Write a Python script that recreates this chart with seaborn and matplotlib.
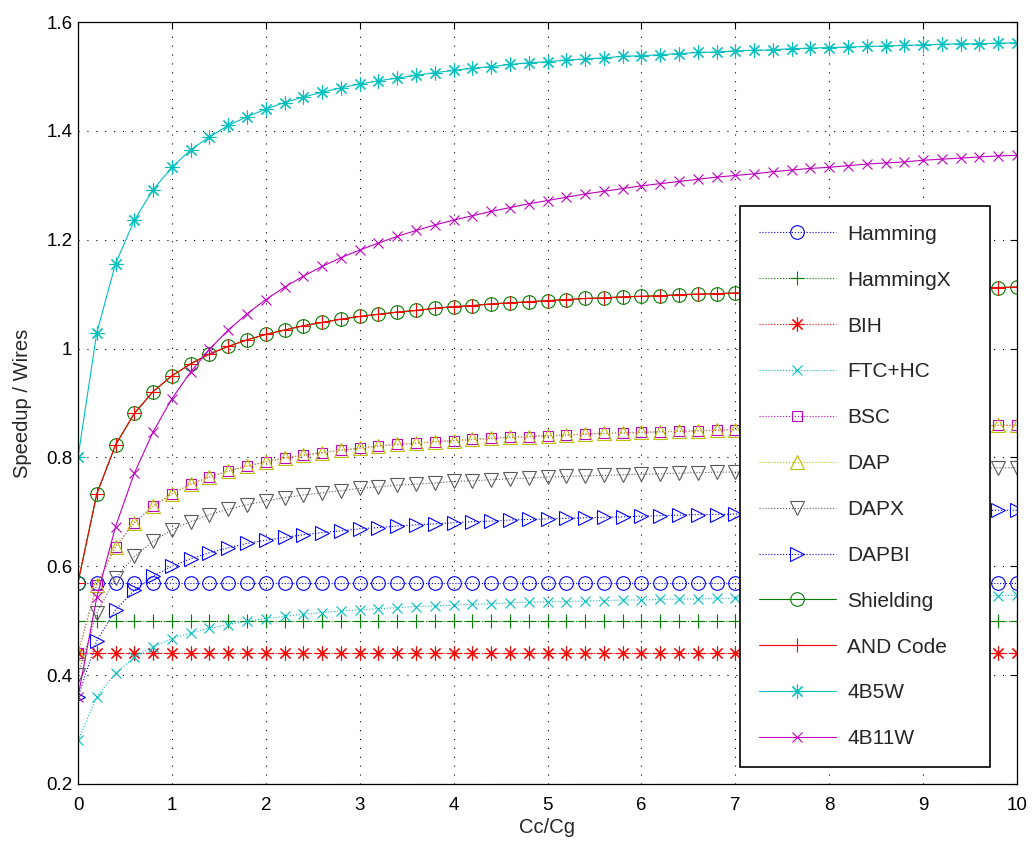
import matplotlib
matplotlib.use("Agg")
import matplotlib.pyplot as plt
import seaborn as sns
import numpy as np

# ---------------- data ----------------
cc_cg = [0.0, 0.2, 0.4, 0.6, 0.8, 1.0, 1.2, 1.4, 1.6, 1.8, 2.0, 2.2, 2.4, 2.6, 2.8,
         3.0, 3.2, 3.4, 3.6, 3.8, 4.0, 4.2, 4.4, 4.6, 4.8, 5.0, 5.2, 5.4, 5.6, 5.8,
         6.0, 6.2, 6.4, 6.6, 6.8, 7.0, 7.2, 7.4, 7.6, 7.8, 8.0, 8.2, 8.4, 8.6, 8.8,
         9.0, 9.2, 9.4, 9.6, 9.8, 10.0]

hamming = [0.57] * 51
hamming_x = [0.50] * 51
bih = [0.44] * 51

ftc_hc = [0.280, 0.360, 0.404, 0.433, 0.452, 0.467, 0.478, 0.486, 0.493, 0.499,
          0.504, 0.508, 0.512, 0.515, 0.518, 0.520, 0.522, 0.524, 0.526, 0.527,
          0.529, 0.530, 0.531, 0.533, 0.534, 0.535, 0.535, 0.536, 0.537, 0.538,
          0.538, 0.539, 0.540, 0.540, 0.541, 0.541, 0.542, 0.542, 0.543, 0.543,
          0.544, 0.544, 0.544, 0.545, 0.545, 0.545, 0.546, 0.546, 0.546, 0.546,
          0.547]

bsc = [0.440, 0.566, 0.636, 0.680, 0.711, 0.733, 0.751, 0.764, 0.775, 0.784,
       0.792, 0.799, 0.804, 0.809, 0.813, 0.817, 0.821, 0.824, 0.826, 0.829,
       0.831, 0.833, 0.835, 0.837, 0.838, 0.840, 0.841, 0.843, 0.844, 0.845,
       0.846, 0.847, 0.848, 0.849, 0.850, 0.851, 0.851, 0.852, 0.853, 0.853,
       0.854, 0.855, 0.855, 0.856, 0.856, 0.857, 0.857, 0.858, 0.858, 0.859,
       0.859]

dap = [0.440, 0.566, 0.636, 0.680, 0.711, 0.733, 0.751, 0.764, 0.775, 0.784,
       0.792, 0.799, 0.804, 0.809, 0.813, 0.817, 0.821, 0.824, 0.826, 0.829,
       0.831, 0.833, 0.835, 0.837, 0.838, 0.840, 0.841, 0.843, 0.844, 0.845,
       0.846, 0.847, 0.848, 0.849, 0.850, 0.851, 0.851, 0.852, 0.853, 0.853,
       0.854, 0.855, 0.855, 0.856, 0.856, 0.857, 0.857, 0.858, 0.858, 0.859,
       0.859]

dapx = [0.400, 0.514, 0.578, 0.618, 0.646, 0.667, 0.682, 0.695, 0.705, 0.713,
        0.720, 0.726, 0.731, 0.735, 0.739, 0.743, 0.746, 0.749, 0.751, 0.753,
        0.756, 0.757, 0.759, 0.761, 0.762, 0.764, 0.765, 0.766, 0.767, 0.768,
        0.769, 0.770, 0.771, 0.772, 0.773, 0.773, 0.774, 0.775, 0.775, 0.776,
        0.776, 0.777, 0.778, 0.778, 0.778, 0.779, 0.779, 0.780, 0.780, 0.781,
        0.781]

dapbi = [0.360, 0.463, 0.520, 0.556, 0.582, 0.600, 0.614, 0.625, 0.634, 0.642,
         0.648, 0.653, 0.658, 0.662, 0.665, 0.669, 0.671, 0.674, 0.676, 0.678,
         0.680, 0.682, 0.683, 0.685, 0.686, 0.687, 0.688, 0.689, 0.690, 0.691,
         0.692, 0.693, 0.694, 0.695, 0.695, 0.696, 0.697, 0.697, 0.698, 0.698,
         0.699, 0.699, 0.700, 0.700, 0.701, 0.701, 0.701, 0.702, 0.702, 0.703,
         0.703]

shielding = [0.570, 0.733, 0.823, 0.881, 0.921, 0.950, 0.972, 0.990, 1.004, 1.016,
             1.026, 1.034, 1.042, 1.048, 1.054, 1.059, 1.063, 1.067, 1.070, 1.074,
             1.077, 1.079, 1.082, 1.084, 1.086, 1.088, 1.090, 1.092, 1.093, 1.095,
             1.096, 1.097, 1.099, 1.100, 1.101, 1.102, 1.103, 1.104, 1.105, 1.106,
             1.106, 1.107, 1.108, 1.109, 1.109, 1.110, 1.111, 1.111, 1.112, 1.112,
             1.113]

and_code = [0.570, 0.733, 0.823, 0.881, 0.921, 0.950, 0.972, 0.990, 1.004, 1.016,
            1.026, 1.034, 1.042, 1.048, 1.054, 1.059, 1.063, 1.067, 1.070, 1.074,
            1.077, 1.079, 1.082, 1.084, 1.086, 1.088, 1.090, 1.092, 1.093, 1.095,
            1.096, 1.097, 1.099, 1.100, 1.101, 1.102, 1.103, 1.104, 1.105, 1.106,
            1.106, 1.107, 1.108, 1.109, 1.109, 1.110, 1.111, 1.111, 1.112, 1.112,
            1.113]

b4_w5 = [0.800, 1.029, 1.156, 1.236, 1.292, 1.333, 1.365, 1.389, 1.410, 1.426,
         1.440, 1.452, 1.462, 1.471, 1.479, 1.486, 1.492, 1.497, 1.502, 1.507,
         1.511, 1.515, 1.518, 1.522, 1.525, 1.527, 1.530, 1.532, 1.534, 1.537,
         1.538, 1.540, 1.542, 1.544, 1.545, 1.547, 1.548, 1.549, 1.551, 1.552,
         1.553, 1.554, 1.555, 1.556, 1.557, 1.558, 1.559, 1.560, 1.560, 1.561,
         1.562]

b4_w11 = [0.360, 0.543, 0.673, 0.771, 0.847, 0.908, 0.957, 0.999, 1.034, 1.064,
          1.090, 1.113, 1.133, 1.151, 1.167, 1.181, 1.194, 1.206, 1.217, 1.227,
          1.236, 1.244, 1.252, 1.259, 1.266, 1.272, 1.278, 1.284, 1.289, 1.294,
          1.299, 1.303, 1.307, 1.311, 1.315, 1.318, 1.321, 1.325, 1.328, 1.331,
          1.333, 1.336, 1.339, 1.341, 1.343, 1.346, 1.348, 1.350, 1.352, 1.354,
          1.355]

series_labels = ["Hamming", "HammingX", "BIH", "FTC+HC", "BSC", "DAP", "DAPX",
                 "DAPBI", "Shielding", "AND Code", "4B5W", "4B11W"]
x_ticks = [0, 1, 2, 3, 4, 5, 6, 7, 8, 9, 10]
y_ticks = [0.2, 0.4, 0.6, 0.8, 1.0, 1.2, 1.4, 1.6]
y_tick_labels = ["0.2", "0.4", "0.6", "0.8", "1", "1.2", "1.4", "1.6"]

# ---------------- styling ----------------
sns.set_theme(style="white")
plt.rcParams["font.family"] = ["Liberation Sans", "DejaVu Sans"]

series_values = [hamming, hamming_x, bih, ftc_hc, bsc, dap, dapx, dapbi,
                 shielding, and_code, b4_w5, b4_w11]
styles = [
    dict(color=(0, 0, 1), marker="o", ls=":", ms=9.8),
    dict(color=(0, 0.5, 0), marker="+", ls=":", ms=10),
    dict(color=(1, 0, 0), marker=(8, 2, 0), ls=":", ms=10),
    dict(color=(0, 0.75, 0.75), marker="x", ls=":", ms=7),
    dict(color=(0.75, 0, 0.75), marker="s", ls=":", ms=7.5),
    dict(color=(0.75, 0.75, 0), marker="^", ls=":", ms=9.8),
    dict(color=(0.35, 0.35, 0.35), marker="v", ls=":", ms=9.8),
    dict(color=(0, 0, 1), marker=">", ls=":", ms=9.8),
    dict(color=(0, 0.5, 0), marker="o", ls="-", ms=9.8),
    dict(color=(1, 0, 0), marker="+", ls="-", ms=10),
    dict(color=(0, 0.75, 0.75), marker=(8, 2, 0), ls="-", ms=10),
    dict(color=(0.75, 0, 0.75), marker="x", ls="-", ms=7),
]

fig = plt.figure(figsize=(10.32, 8.42), dpi=100)
ax = fig.add_axes([78 / 1032, 1 - 784 / 842, (1017 - 78) / 1032, (784 - 22) / 842])

for vals, lab, st in zip(series_values, series_labels, styles):
    sns.lineplot(x=cc_cg, y=vals, ax=ax, color=st["color"], linestyle=st["ls"],
                 linewidth=0.8, marker=st["marker"], markersize=st["ms"],
                 markerfacecolor="none", markeredgecolor=st["color"],
                 markeredgewidth=0.8, label=lab, errorbar=None, sort=False)

ax.set_xlim(0, 10)
ax.set_ylim(0.2, 1.6)
ax.set_xticks(x_ticks)
ax.set_xticklabels([str(t) for t in x_ticks])
ax.set_yticks(y_ticks)
ax.set_yticklabels(y_tick_labels)
ax.tick_params(axis="both", which="both", direction="in", length=5, width=0.8,
               top=True, right=True, labelsize=13.5, colors="black")
ax.tick_params(axis="x", pad=9)
ax.tick_params(axis="y", pad=4)
ax.grid(True, color="black", linestyle=(0, (1, 7)), linewidth=0.8)
for sp in ax.spines.values():
    sp.set_color("black")
    sp.set_linewidth(0.9)
    sp.set_visible(True)

ax.set_xlabel("Cc/Cg", fontsize=14.5, labelpad=3)
ax.set_ylabel("Speedup / Wires", fontsize=14.5, labelpad=10)

x0 = (740 - 78) / 939
x1 = (990 - 78) / 939
y_top = (784 - 206) / 762
leg = ax.legend(loc="upper left", bbox_to_anchor=(x0, y_top - 0.5, x1 - x0, 0.5),
                mode="expand", borderaxespad=0, fontsize=15, frameon=True,
                fancybox=False, framealpha=1, edgecolor="black", handlelength=3.7,
                handletextpad=0.55, labelspacing=1.29, borderpad=0.9)
leg.get_frame().set_linewidth(1.2)

fig.savefig("out.png", dpi=100, facecolor="white")
